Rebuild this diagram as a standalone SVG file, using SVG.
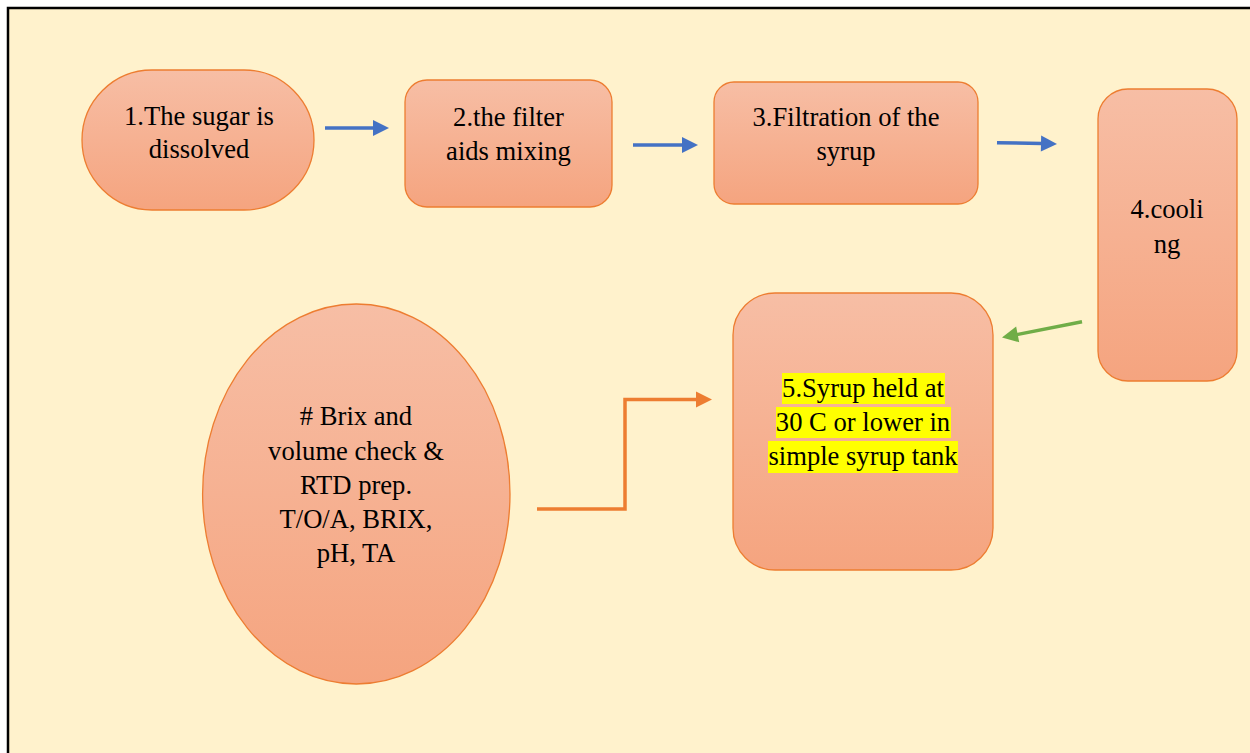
<svg xmlns="http://www.w3.org/2000/svg" width="1250" height="753" viewBox="0 0 1250 753">
  <style>
    .node { fill: url(#peach); stroke: #ED7D31; stroke-width: 1.3; }
    .label { font-family: "Liberation Serif", serif; font-size: 26.6px; fill: #000; text-anchor: middle; }
    .mark { fill: #FFFF00; }
    .blue { fill: none; stroke: #4472C4; stroke-width: 3.5; }
    .green { fill: none; stroke: #70AD47; stroke-width: 3.5; }
    .orange { fill: none; stroke: #ED7D31; stroke-width: 3.5; }
  </style>
  <defs>
    <linearGradient id="peach" x1="0" y1="0" x2="0" y2="1">
      <stop offset="0" stop-color="#F7BEA5"/>
      <stop offset="1" stop-color="#F5A47F"/>
    </linearGradient>
    <marker id="head-blue" markerUnits="userSpaceOnUse" markerWidth="16" markerHeight="16" refX="1" refY="8" orient="auto" overflow="visible">
      <path d="M0,0 L16,8 L0,16 Z" fill="#4472C4"/>
    </marker>
    <marker id="head-green" markerUnits="userSpaceOnUse" markerWidth="16" markerHeight="16" refX="1" refY="8" orient="auto" overflow="visible">
      <path d="M0,0 L16,8 L0,16 Z" fill="#70AD47"/>
    </marker>
    <marker id="head-orange" markerUnits="userSpaceOnUse" markerWidth="16" markerHeight="16" refX="1" refY="8" orient="auto" overflow="visible">
      <path d="M0,0 L16,8 L0,16 Z" fill="#ED7D31"/>
    </marker>
  </defs>

  <!-- page background and frame -->
  <rect x="0" y="0" width="1250" height="753" fill="#FFFFFF"/>
  <rect x="8" y="8" width="1260" height="770" fill="#FFF2CC" stroke="#000000" stroke-width="2.5"/>

  <!-- connectors -->
  <g id="connectors">
    <path class="blue" d="M325,128 L374,128" marker-end="url(#head-blue)"/>
    <path class="blue" d="M633,145 L683,145" marker-end="url(#head-blue)"/>
    <path class="blue" d="M997,142.7 L1042,143.6" marker-end="url(#head-blue)"/>
    <path class="green" d="M1082,321.7 L1016.7,334.6" marker-end="url(#head-green)"/>
    <path class="orange" d="M537,509 L625,509 L625,399.5 L697,399.5" marker-end="url(#head-orange)"/>
  </g>

  <!-- step 1 -->
  <g id="node-dissolve">
    <rect class="node" x="82" y="70" width="232" height="140" rx="70" ry="70"/>
    <text class="label" x="199" y="125">1.The sugar is</text>
    <text class="label" x="199" y="158">dissolved</text>
  </g>

  <!-- step 2 -->
  <g id="node-filter-aids">
    <rect class="node" x="405" y="80" width="207" height="127" rx="22" ry="22"/>
    <text class="label" x="508.5" y="126">2.the filter</text>
    <text class="label" x="508.5" y="160">aids mixing</text>
  </g>

  <!-- step 3 -->
  <g id="node-filtration">
    <rect class="node" x="714" y="82" width="264" height="122" rx="20" ry="20"/>
    <text class="label" x="846" y="126">3.Filtration of the</text>
    <text class="label" x="846" y="160">syrup</text>
  </g>

  <!-- step 4 -->
  <g id="node-cooling">
    <rect class="node" x="1098" y="89" width="139" height="292" rx="30" ry="30"/>
    <text class="label" x="1167" y="218">4.cooli</text>
    <text class="label" x="1167" y="253">ng</text>
  </g>

  <!-- step 5 -->
  <g id="node-holding">
    <rect class="node" x="733" y="293" width="260" height="277" rx="42" ry="42"/>
    <rect class="mark" x="782" y="373" width="163" height="31"/>
    <rect class="mark" x="776" y="407" width="175" height="31"/>
    <rect class="mark" x="768" y="441" width="190" height="32"/>
    <text class="label" x="863" y="397">5.Syrup held at</text>
    <text class="label" x="863" y="431">30 C or lower in</text>
    <text class="label" x="863" y="465">simple syrup tank</text>
  </g>

  <!-- quality check -->
  <g id="node-checks">
    <ellipse class="node" cx="356.3" cy="494" rx="153.7" ry="190"/>
    <text class="label" x="356" y="425"># Brix and</text>
    <text class="label" x="356" y="460">volume check &amp;</text>
    <text class="label" x="356" y="494">RTD prep.</text>
    <text class="label" x="356" y="528">T/O/A, BRIX,</text>
    <text class="label" x="356" y="562">pH, TA</text>
  </g>
</svg>
